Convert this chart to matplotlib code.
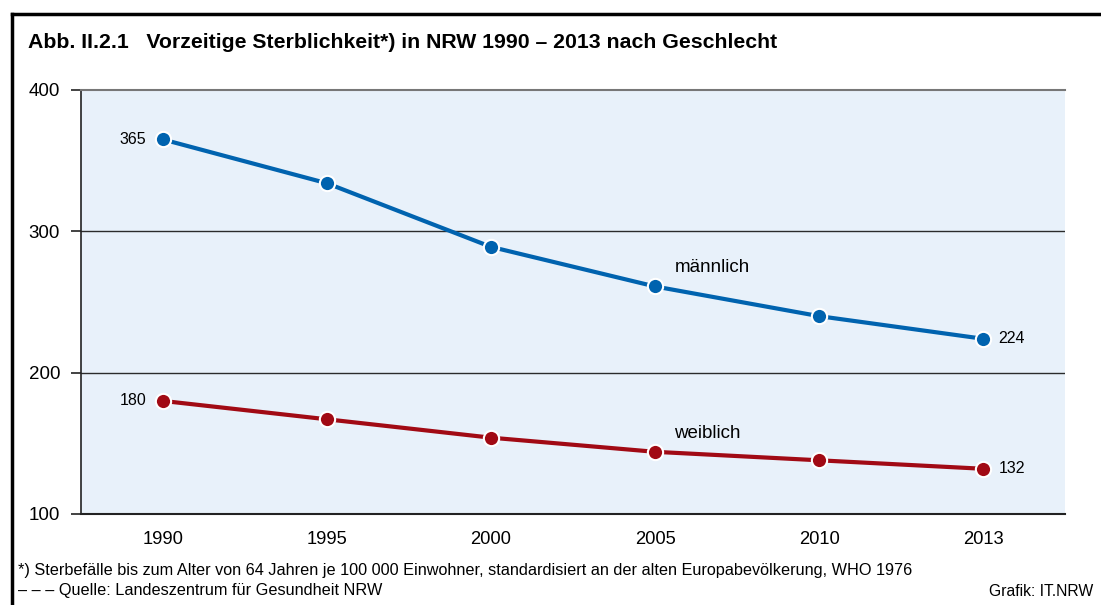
import matplotlib.pyplot as plt
from matplotlib.lines import Line2D

# Data
years = ['1990', '1995', '2000', '2005', '2010', '2013']
maennlich = [365, 334, 289, 261, 240, 224]
weiblich = [180, 167, 154, 144, 138, 132]
y_ticks = [100, 200, 300, 400]

BLUE = '#0063AF'
RED = '#A10A14'
BG = '#E8F1FA'

plt.rcParams['font.family'] = ['Liberation Sans', 'DejaVu Sans']

W, H = 1101, 605
fig = plt.figure(figsize=(W / 100, H / 100), dpi=100)
ax = fig.add_axes([81 / W, 1 - 514 / H, (1065 - 81) / W, (514 - 90) / H])
ax.set_facecolor(BG)

x = list(range(len(years)))
ax.set_xlim(-0.5, len(years) - 0.5)
ax.set_ylim(100, 400)

# Gridlines
for v in [200, 300]:
    ax.axhline(v, color='#2b2b2b', lw=1.0, zorder=1)

ax.plot(x, maennlich, color=BLUE, lw=3, marker='o', ms=11,
        markeredgecolor='white', markeredgewidth=1.5, zorder=3)
ax.plot(x, weiblich, color=RED, lw=3, marker='o', ms=11,
        markeredgecolor='white', markeredgewidth=1.5, zorder=3)

# Value labels at the first and last points
ax.annotate(str(maennlich[0]), (x[0], maennlich[0]), xytext=(-12, 0),
            textcoords='offset points', ha='right', va='center', fontsize=11.5)
ax.annotate(str(weiblich[0]), (x[0], weiblich[0]), xytext=(-12, 0),
            textcoords='offset points', ha='right', va='center', fontsize=11.5)
ax.annotate(str(maennlich[-1]), (x[-1], maennlich[-1]), xytext=(11, 0),
            textcoords='offset points', ha='left', va='center', fontsize=11.5)
ax.annotate(str(weiblich[-1]), (x[-1], weiblich[-1]), xytext=(11, 0),
            textcoords='offset points', ha='left', va='center', fontsize=11.5)

# Series names
ax.annotate('männlich', (x[3], maennlich[3]), xytext=(14, 14),
            textcoords='offset points', ha='left', va='center', fontsize=13.5)
ax.annotate('weiblich', (x[3], weiblich[3]), xytext=(14, 13),
            textcoords='offset points', ha='left', va='center', fontsize=13.5)

ax.set_xticks(x)
ax.set_xticklabels(years, fontsize=13.2)
ax.tick_params(axis='x', length=0, pad=12)
ax.set_yticks(y_ticks)
ax.set_yticklabels([str(v) for v in y_ticks], fontsize=13.5)
ax.tick_params(axis='y', length=7, width=1.2, color='#222222', pad=8)

ax.spines['right'].set_visible(False)
ax.spines['top'].set_color('#777777')
ax.spines['top'].set_linewidth(1.5)
ax.spines['left'].set_color('#222222')
ax.spines['left'].set_linewidth(1.2)
ax.spines['bottom'].set_color('#222222')
ax.spines['bottom'].set_linewidth(1.5)

# Title and footnotes
fig.text(28 / W, 1 - 43 / H,
         'Abb. II.2.1   Vorzeitige Sterblichkeit*) in NRW 1990 – 2013 nach Geschlecht',
         fontsize=15.3, fontweight='bold', va='center', ha='left')
fig.text(18 / W, 1 - 570 / H,
         '*) Sterbefälle bis zum Alter von 64 Jahren je 100 000 Einwohner, '
         'standardisiert an der alten Europabevölkerung, WHO 1976',
         fontsize=11.7, va='center', ha='left')
fig.text(18 / W, 1 - 590 / H, '– – – Quelle: Landeszentrum für Gesundheit NRW',
         fontsize=11.7, va='center', ha='left')
fig.text(1093 / W, 1 - 591 / H, 'Grafik: IT.NRW', fontsize=11.3,
         va='center', ha='right')

# Outer frame (top and left only)
fig.add_artist(Line2D([12 / W, 1], [1 - 14 / H, 1 - 14 / H], color='black', lw=2.5))
fig.add_artist(Line2D([12 / W, 12 / W], [0, 1 - 14 / H], color='black', lw=2.5))

fig.savefig('out.png', dpi=100)
